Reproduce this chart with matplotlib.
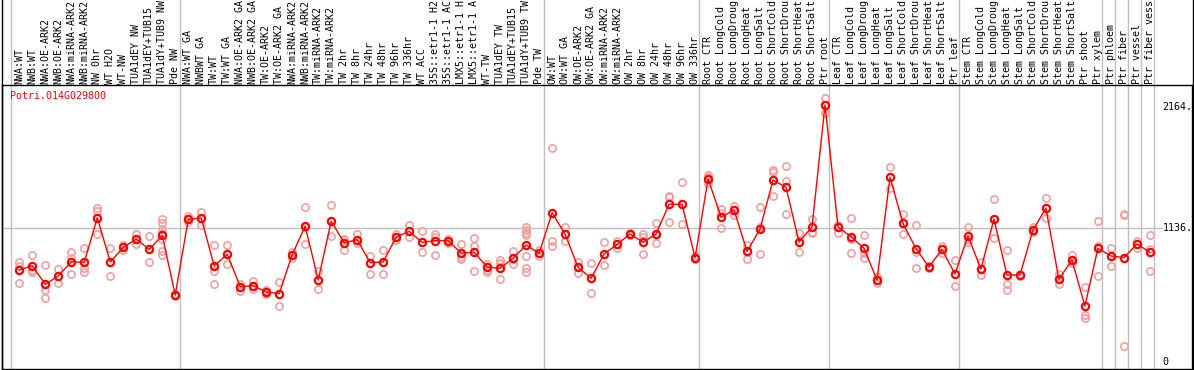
import matplotlib
matplotlib.use("Agg")
import matplotlib.pyplot as plt
from matplotlib.lines import Line2D
from matplotlib.transforms import blended_transform_factory

gene = "Potri.014G029800"

labels = [
    "NWA:WT", "NWB:WT", "NWA:OE-ARK2", "NWB:OE-ARK2", "NWA:miRNA-ARK2", "NWB:miRNA-ARK2",
    "NW 0hr", "WT H2O", "WT-NW", "TUA1dEY NW", "TUA1dEY+TUB15", "TUA1dY+TUB9 NW", "Pde NW",
    "NWA:WT GA", "NWBWT GA", "TW:WT", "TW:WT GA", "NWA:OE-ARK2 GA", "NWB:OE-ARK2 GA",
    "TW:OE-ARK2", "TW:OE-ARK2 GA", "NWA:miRNA-ARK2", "NWB:miRNA-ARK2", "TW:miRNA-ARK2",
    "TW:miRNA-ARK2", "TW 2hr", "TW 8hr", "TW 24hr", "TW 48hr", "TW 96hr", "TW 336hr",
    "WT ACC", "35S::etr1-1 H2", "35S::etr1-1 AC", "LMX5::etr1-1 H", "LMX5::etr1-1 A",
    "WT-TW", "TUA1dEY TW", "TUA1dEY+TUB15", "TUA1dY+TUB9 TW", "Pde TW",
    "OW:WT", "OW:WT GA", "OW:OE-ARK2", "OW:OE-ARK2 GA", "OW:miRNA-ARK2", "OW:miRNA-ARK2",
    "OW 2hr", "OW 8hr", "OW 24hr", "OW 48hr", "OW 96hr", "OW 336hr",
    "Root CTR", "Root LongCold", "Root LongDroug", "Root LongHeat", "Root LongSalt",
    "Root ShortCold", "Root ShortDrou", "Root ShortHeat", "Root ShortSalt", "Ptr root",
    "Leaf CTR", "Leaf LongCold", "Leaf LongDroug", "Leaf LongHeat", "Leaf LongSalt",
    "Leaf ShortCold", "Leaf ShortDrou", "Leaf ShortHeat", "Leaf ShortSalt", "Ptr leaf",
    "Stem CTR", "Stem LongCold", "Stem LongDroug", "Stem LongHeat", "Stem LongSalt",
    "Stem ShortCold", "Stem ShortDrou", "Stem ShortHeat", "Stem ShortSalt", "Ptr shoot",
    "Ptr xylem", "Ptr phloem", "Ptr fiber", "Ptr vessel", "Ptr fiber vess",
]

means = [
    782, 818, 660, 731, 852, 847, 1226, 850, 974, 1045, 957, 1076, 569,
    1212, 1223, 816, 915, 640, 649, 595, 581, 912, 1155, 697, 1195, 1014, 1039,
    844, 850, 1062, 1110, 1017, 1031, 1031, 926, 932, 807, 796, 881, 994, 923,
    1269, 1085, 804, 711, 918, 1000, 1088, 1017, 1088, 1340, 1340, 886,
    1555, 1232, 1291, 940, 1130, 1546, 1484, 1020, 1147, 2184,
    1147, 1065, 966, 697, 1569, 1178, 963, 807, 957, 748,
    1070, 790, 1215, 739, 739, 1121, 1306, 702, 867, 476, 966,
    901, 886, 1003, 932,
]

replicates = [
    [852, 816, 674], [909, 782, 765], [821, 612, 541], [787, 731, 674],
    [932, 881, 748], [969, 796, 767], [1306, 1286, 1085], [966, 850, 731],
    [994, 974, 954], [1088, 1045, 1000], [1070, 957, 847],
    [1212, 1178, 1127, 1099, 1045, 940, 912], [578, 569, 561],
    [1240, 1212, 1189], [1274, 1223, 1167], [991, 773, 663], [994, 915, 833],
    [660, 640, 603], [691, 649, 617], [612, 595, 578], [677, 581, 476],
    [937, 912, 881], [1314, 1150, 1003], [773, 697, 623], [1334, 1195, 1070],
    [1045, 1036, 952], [1085, 1039, 1014], [903, 844, 748], [949, 850, 748],
    [1085, 1062, 1036], [1164, 1110, 1065], [1110, 1017, 932], [1090, 1065, 909],
    [1048, 1031, 1014], [1003, 895, 878], [1054, 986, 770], [833, 782, 767],
    [867, 838, 702], [946, 872, 835], [1150, 1121, 1099, 1079, 901, 796, 767],
    [952, 923, 901],
    [1815, 1031, 986], [1147, 1085, 1031], [850, 804, 759], [838, 711, 583],
    [1017, 918, 821], [1031, 1000, 971], [1099, 1088, 1076], [1088, 1065, 918],
    [1178, 1088, 1014], [1413, 1405, 1187], [1526, 1340, 1170], [901, 886, 872],
    [1589, 1575, 1518], [1297, 1263, 1136], [1325, 1291, 1249], [994, 940, 872],
    [1314, 1150, 918], [1631, 1617, 1410], [1662, 1535, 1257], [1093, 1020, 932],
    [1212, 1107, 1093], [2240, 2184, 2118],
    [1164, 1147, 1093], [1221, 1042, 923], [1079, 923, 881], [725, 697, 668],
    [1654, 1569, 1475], [1255, 1178, 1085], [1164, 937, 796], [819, 807, 796],
    [986, 957, 923], [867, 748, 646],
    [1144, 1045, 1022], [847, 790, 736], [1382, 1215, 1051], [952, 660, 612],
    [745, 739, 733], [1144, 1121, 1107], [1391, 1306, 1221], [745, 702, 660],
    [909, 867, 838], [634, 399, 371], [1198, 986, 731],
    [966, 901, 816], [1257, 1249, 136], [1031, 1003, 966], [1079, 957, 776],
]

group_starts = [0, 13, 41, 53, 63, 73, 84, 85, 86, 87, 88]
ref_values = [0, 1136, 2164]
ref_labels = ["0", "1136.", "2164."]
grid_values = [1136]

W, H = 1194, 370
fig = plt.figure(figsize=(W / 100, H / 100), dpi=100)
fig.patch.set_facecolor("white")

# plot area: px x 1..1192, y 85..369
ax = fig.add_axes([1.5 / W, 1.0 / H, 1190.5 / W, 284.0 / H])
ax.set_xlim(-1.37, 90.24)
ax.set_ylim(-59.5, 2353.5)
ax.set_xticks([])
ax.set_yticks([])
for s in ax.spines.values():
    s.set_color("black")
    s.set_linewidth(1.0)

mono = "DejaVu Sans Mono"
fs = 7.2
bt = blended_transform_factory(ax.transData, ax.transAxes)

# group separators (extend through label area)
for g in group_starts:
    xs = g - 0.66
    ax.plot([xs, xs], [0, 1.31], transform=bt, color="#c0c0c0", lw=1.0,
            clip_on=False, zorder=1)

# horizontal reference grid
xgrid_end = (1162 - 19.3) / 13.0
for gv in grid_values:
    ax.plot([-1.37, xgrid_end], [gv, gv], color="#c0c0c0", lw=1.0, zorder=1)

# value labels on the right
for v, t in zip(ref_values, ref_labels):
    ax.text((1163 - 19.3) / 13.0, v, t, fontfamily=mono, fontsize=fs,
            ha="left", va="center", color="black")

# column labels
y_lab = (369 - 83.5) / 284.0
for i, lab in enumerate(labels):
    ax.text(i, y_lab, lab, transform=bt, rotation=90, ha="center", va="bottom",
            fontfamily=mono, fontsize=fs, color="black", clip_on=False)

# gene name
ax.text(-0.72, (369 - 96) / 284.0, gene, transform=bt, ha="left", va="center",
        fontfamily=mono, fontsize=fs, color="red")

# replicate points
for i, reps in enumerate(replicates):
    ax.plot([i] * len(reps), reps, linestyle="none", marker="o", ms=5.2,
            mfc="none", mec="#f0a0a0", mew=1.2, zorder=2)

# mean line and markers
xs = list(range(len(means)))
ax.plot(xs, means, color="red", lw=1.0, zorder=3)
ax.plot(xs, means, linestyle="none", marker="o", ms=5.2, mfc="none",
        mec="red", mew=1.6, zorder=4)

# full-height frame lines left/right
fig.add_artist(Line2D([1.5 / W, 1.5 / W], [0, 1], transform=fig.transFigure,
                      color="black", lw=1.0))
fig.add_artist(Line2D([1192.5 / W, 1192.5 / W], [0, 1], transform=fig.transFigure,
                      color="black", lw=1.0))

fig.savefig("out.png", dpi=100, facecolor="white")
